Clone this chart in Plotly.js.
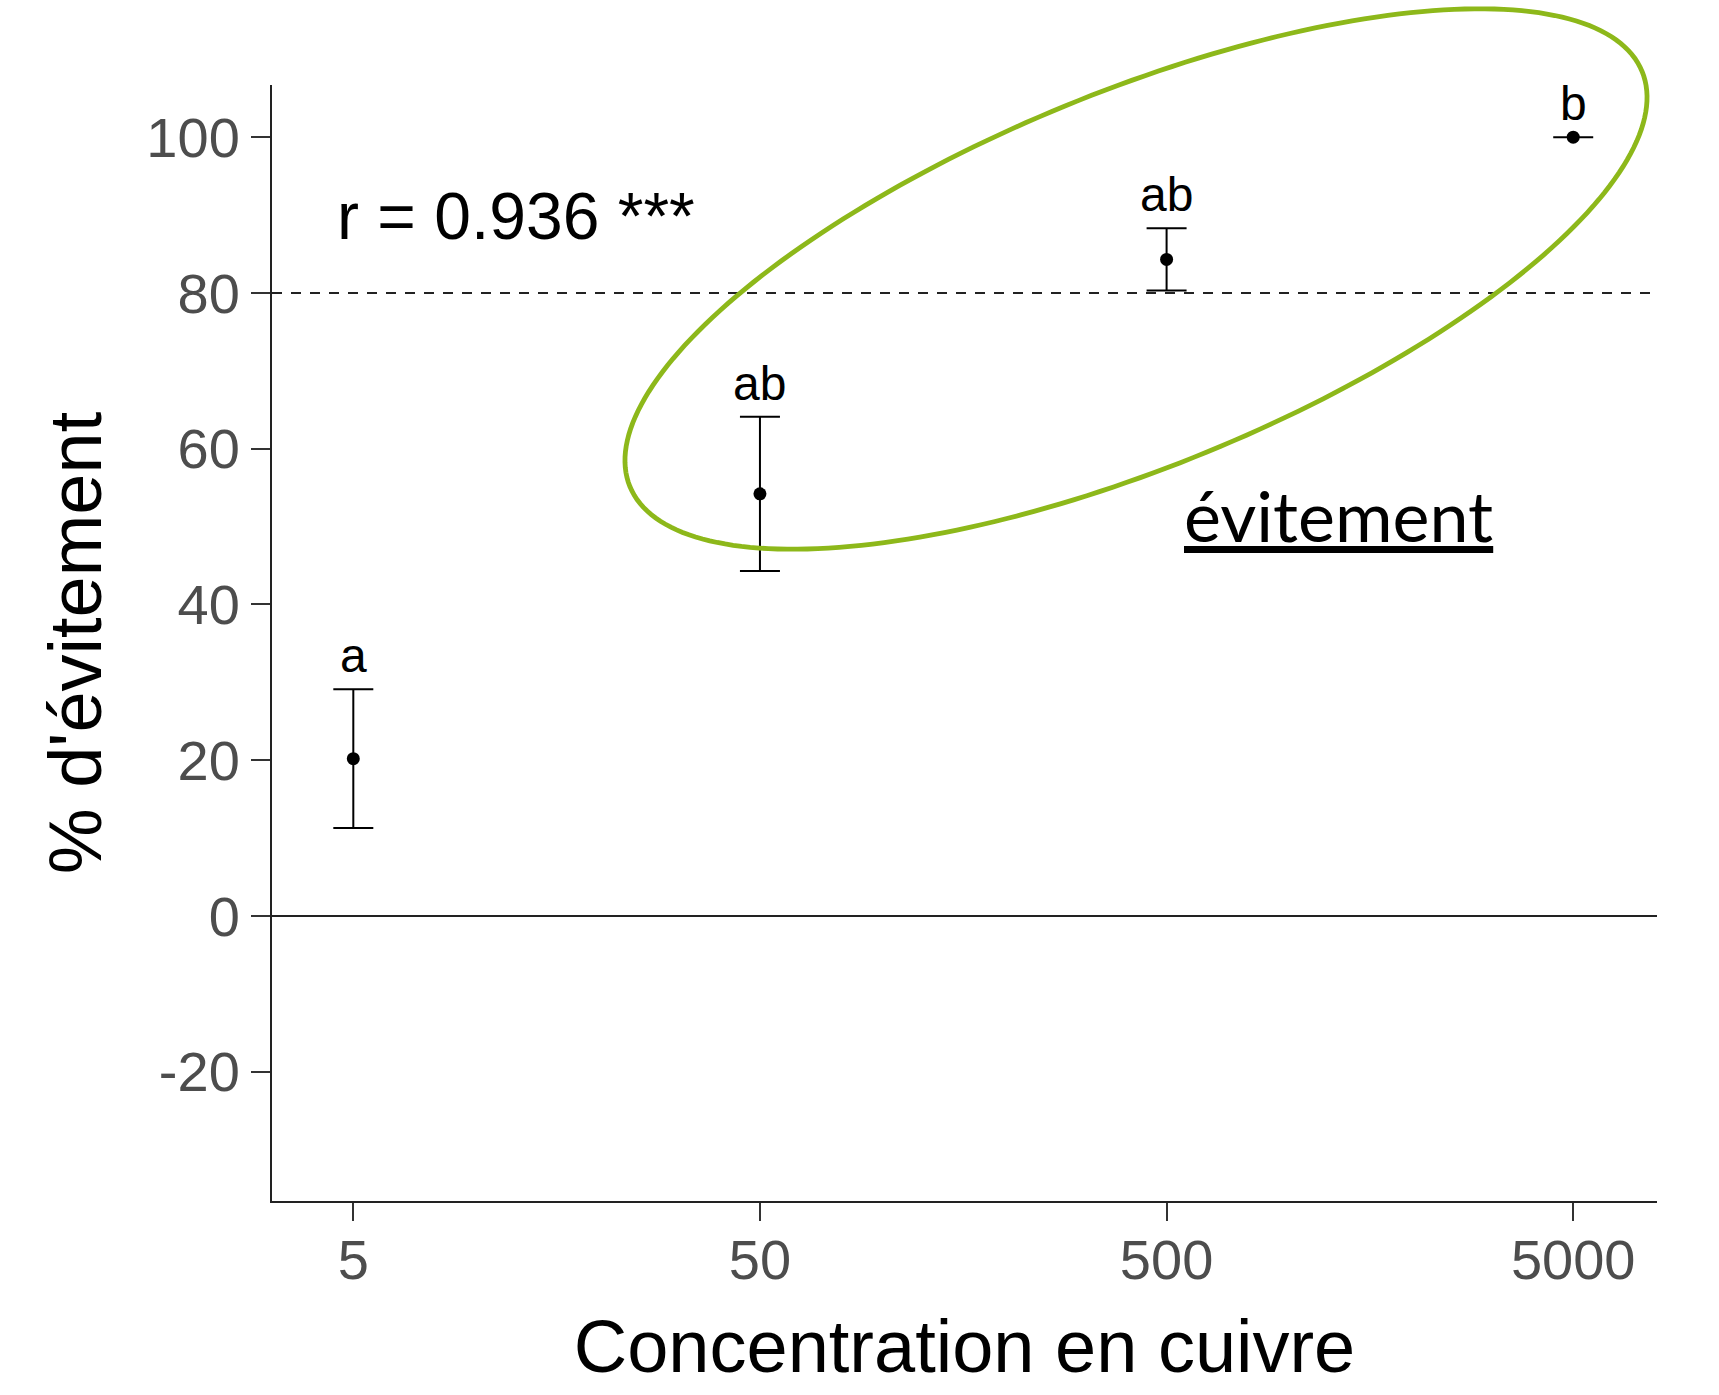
<!DOCTYPE html>
<html>
<head>
<meta charset="utf-8">
<script src="https://cdn.plot.ly/plotly-3.0.1.min.js"></script>
<style>
  html, body { margin: 0; padding: 0; background: #ffffff; }
  #chart { width: 1719px; height: 1395px; }
</style>
</head>
<body>
<div id="chart"></div>
<script>
// ---- data ----
const concentrations = [5, 50, 500, 5000];
const tickLabels = ["5", "50", "500", "5000"];
const meanAvoidance = [20.2, 54.2, 84.3, 100];
const errorAvoidance = [8.9, 9.9, 4.0, 0];
const groupLetters = ["a", "ab", "ab", "b"];
const yTickValues = [-20, 0, 20, 40, 60, 80, 100];
const yTickLabels = ["-20", "0", "20", "40", "60", "80", "100"];
const correlationText = "r = 0.936 ***";
const zoneLabel = "évitement";
const thresholdValue = 80;

// ---- layout geometry ----
const W = 1719, H = 1395;
const M = { l: 272, r: 62, t: 85, b: 194 };
const PW = W - M.l - M.r, PH = H - M.t - M.b;

function toPaperX(px) { return (px - M.l) / PW; }
function toPaperY(py) { return (H - M.b - py) / PH; }

// green hand-drawn style ellipse (decoration), in page pixels -> paper units
function ellipsePath(cx, cy, a, b, deg, n) {
  const th = deg * Math.PI / 180;
  let d = "";
  for (let i = 0; i <= n; i++) {
    const t = 2 * Math.PI * i / n;
    const px = cx + a * Math.cos(t) * Math.cos(th) - b * Math.sin(t) * Math.sin(th);
    const py = cy - (a * Math.cos(t) * Math.sin(th) + b * Math.sin(t) * Math.cos(th));
    d += (i === 0 ? "M" : "L") + toPaperX(px).toFixed(5) + "," + toPaperY(py).toFixed(5);
  }
  return d + "Z";
}

const FONT = "Liberation Sans, Arial, sans-serif";

const trace = {
  type: "scatter",
  mode: "markers",
  x: concentrations,
  y: meanAvoidance,
  marker: { color: "#000000", size: 13 },
  error_y: {
    type: "data",
    array: errorAvoidance,
    visible: true,
    color: "#000000",
    thickness: 2,
    width: 20
  },
  showlegend: false,
  hoverinfo: "x+y"
};

const letterAnnotations = concentrations.map((c, i) => ({
  x: Math.log10(c),
  y: meanAvoidance[i] + errorAvoidance[i],
  xref: "x", yref: "y",
  text: groupLetters[i],
  showarrow: false,
  xanchor: "center",
  yanchor: "bottom",
  yshift: 5,
  font: { family: FONT, size: 48, color: "#000000" }
}));

const layout = {
  width: W, height: H,
  margin: M,
  paper_bgcolor: "#ffffff",
  plot_bgcolor: "#ffffff",
  showlegend: false,
  xaxis: {
    type: "log",
    range: [0.499, 3.905],
    tickvals: concentrations,
    ticktext: tickLabels,
    showgrid: false,
    zeroline: false,
    showline: true,
    linecolor: "#222222",
    linewidth: 2,
    ticks: "outside",
    ticklen: 18,
    tickwidth: 2,
    tickcolor: "#333333",
    ticklabelstandoff: -9,
    tickfont: { family: FONT, size: 56, color: "#4d4d4d" },
    title: {
      text: "Concentration en cuivre",
      font: { family: FONT, size: 74, color: "#000000" },
      standoff: 30
    }
  },
  yaxis: {
    range: [-36.6, 106.7],
    tickvals: yTickValues,
    ticktext: yTickLabels,
    showgrid: false,
    zeroline: true,
    zerolinecolor: "#222222",
    zerolinewidth: 2,
    showline: true,
    linecolor: "#222222",
    linewidth: 2,
    ticks: "outside",
    ticklen: 19,
    tickwidth: 2,
    tickcolor: "#333333",
    tickfont: { family: FONT, size: 56, color: "#4d4d4d" },
    title: {
      text: "% d'évitement",
      font: { family: FONT, size: 74, color: "#000000" },
      standoff: 20
    }
  },
  shapes: [
    {
      type: "line",
      xref: "paper", yref: "y",
      x0: 0, x1: 1, y0: thresholdValue, y1: thresholdValue,
      line: { color: "#222222", width: 2, dash: "10px,9px" },
      layer: "below"
    },
    {
      type: "path",
      xref: "paper", yref: "paper",
      path: ellipsePath(1136, 279, 547, 187, 22.3, 240),
      line: { color: "#8db81a", width: 4.8 },
      fillcolor: "rgba(0,0,0,0)",
      layer: "above"
    }
  ],
  annotations: letterAnnotations.concat([
    {
      x: toPaperX(335), y: 89.9,
      xref: "paper", yref: "y",
      text: correlationText,
      showarrow: false,
      xanchor: "left", yanchor: "middle",
      font: { family: FONT, size: 66, color: "#000000" }
    },
    {
      x: toPaperX(1338), y: 51.5,
      xref: "paper", yref: "y",
      text: "<u>" + zoneLabel + "</u>",
      showarrow: false,
      xanchor: "center", yanchor: "middle",
      font: { family: "Lato, Open Sans, sans-serif", size: 70, color: "#000000" }
    }
  ])
};

Plotly.newPlot("chart", [trace], layout, { displayModeBar: false, staticPlot: true });
</script>
</body>
</html>
